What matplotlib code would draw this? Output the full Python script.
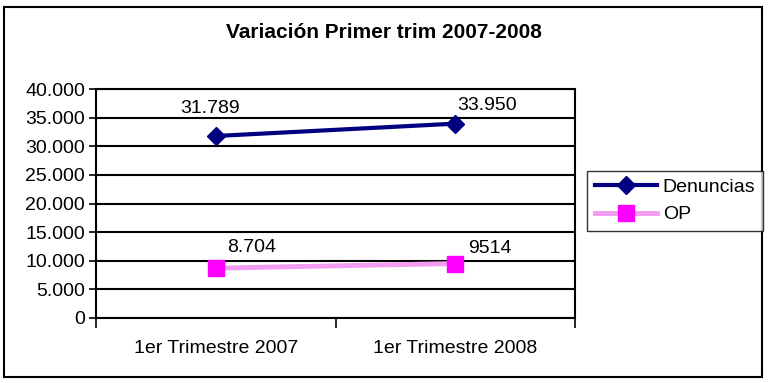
import numpy as np
import matplotlib.pyplot as plt
from matplotlib.patches import Rectangle

plt.rcParams['font.family'] = ['Liberation Sans', 'DejaVu Sans']

# data
categories = ['1er Trimestre 2007', '1er Trimestre 2008']
denuncias = [31789, 33950]
op = [8704, 9514]
denuncias_labels = ['31.789', '33.950']
op_labels = ['8.704', '9514']
y_ticks = [0, 5000, 10000, 15000, 20000, 25000, 30000, 35000, 40000]
y_tick_labels = ['0', '5.000', '10.000', '15.000', '20.000', '25.000',
                 '30.000', '35.000', '40.000']
title = 'Variación Primer trim 2007-2008'

fig = plt.figure(figsize=(7.68, 3.83), dpi=100)
ax = fig.add_axes([96 / 768, 1 - 318 / 383, (575 - 96) / 768, (318 - 89) / 383])

x = np.arange(len(categories))

# lines
ax.plot(x, denuncias, color='#000080', lw=3, marker='D', ms=9,
        markerfacecolor='#000080', markeredgecolor='#000080', label='Denuncias', zorder=4)
ax.plot(x, op, color='#F29CF2', lw=3.5, marker='s', ms=11,
        markerfacecolor='#FF00FF', markeredgecolor='#FF00FF', label='OP', zorder=4)

# data labels (Excel style, just above/right of points)
den_offsets = [(-4, 20), (23, 13)]
for xi, yi, lab, off in zip(x, denuncias, denuncias_labels, den_offsets):
    ax.annotate(lab, (xi, yi), xytext=off, textcoords='offset points',
                ha='center', va='center', fontsize=14)
op_offsets = [(26, 15), (25, 11)]
for xi, yi, lab, off in zip(x, op, op_labels, op_offsets):
    ax.annotate(lab, (xi, yi), xytext=off, textcoords='offset points',
                ha='center', va='center', fontsize=14)

# axes
ax.set_xlim(-0.5, len(categories) - 0.5)
ax.set_ylim(0, 40000)
ax.set_yticks(y_ticks)
ax.set_yticklabels(y_tick_labels, fontsize=14)
ax.yaxis.grid(True, color='black', lw=1.5)
ax.set_axisbelow(True)

ax.set_xticks(np.arange(-0.5, len(categories), 1.0))
ax.set_xticklabels([])
ax.set_xticks(x, minor=True)
ax.set_xticklabels(categories, minor=True, fontsize=14)
ax.tick_params(axis='x', which='major', length=7, width=1.2, direction='out')
ax.tick_params(axis='x', which='minor', length=0, pad=16)
ax.tick_params(axis='y', length=5, width=1.2, direction='out', pad=3)

for side in ['left', 'right', 'top', 'bottom']:
    ax.spines[side].set_color('black')
    ax.spines[side].set_linewidth(1.5)

fig.text(0.5, 1 - 32 / 383, title, ha='center', va='center',
         fontsize=15, fontweight='bold')

leg = fig.legend(loc='center left', bbox_to_anchor=(587 / 768, 1 - 201 / 383),
                 fontsize=14, frameon=True, fancybox=False, edgecolor='black',
                 handlelength=3.2, handletextpad=0.3, borderpad=0.4, labelspacing=0.5,
                 borderaxespad=0)
leg.get_frame().set_linewidth(1.0)

# outer chart border
fig.patches.append(Rectangle((4 / 768, 6 / 383), 758 / 768, 370 / 383,
                             transform=fig.transFigure, fill=False,
                             edgecolor='black', lw=1.5))

fig.savefig('out.png', dpi=100)
